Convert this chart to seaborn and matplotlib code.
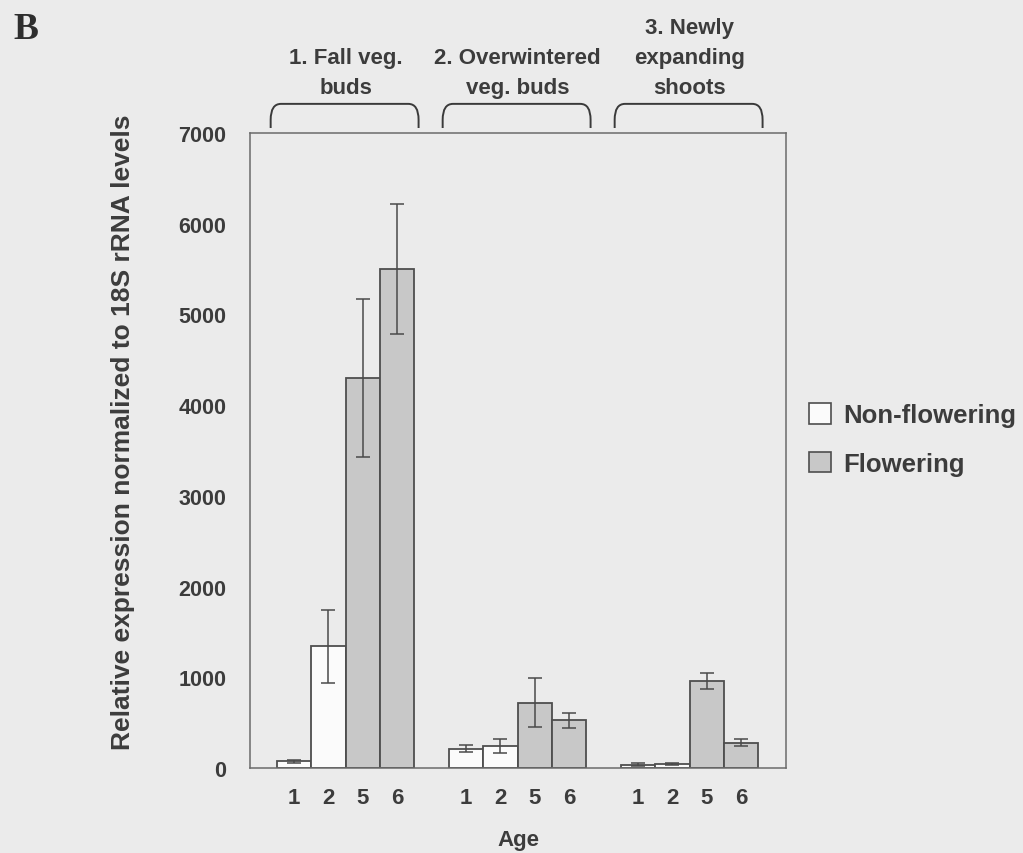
import numpy as np
import pandas as pd
import matplotlib
matplotlib.use("Agg")
import matplotlib.pyplot as plt
import seaborn as sns
from matplotlib.path import Path
from matplotlib.patches import PathPatch, Patch
from matplotlib.transforms import blended_transform_factory

# --- datos ---
groups = ["1. Fall veg.\nbuds", "2. Overwintered\nveg. buds", "3. Newly\nexpanding\nshoots"]
ages = ["1", "2", "5", "6"]
tipo = ["Non-flowering", "Non-flowering", "Flowering", "Flowering"]

fall_vals = [75, 1340, 4300, 5500]
fall_err = [15, 400, 870, 720]
over_vals = [215, 245, 720, 525]
over_err = [35, 80, 270, 80]
shoot_vals = [36, 48, 960, 280]
shoot_err = [15, 10, 90, 35]

all_vals = [fall_vals, over_vals, shoot_vals]
all_errs = [fall_err, over_err, shoot_err]

rows = []
for g, (vals, errs) in enumerate(zip(all_vals, all_errs)):
    for j, age in enumerate(ages):
        rows.append({"pos": g * 5 + j, "age": age, "tipo": tipo[j],
                     "valor": vals[j], "err": errs[j], "grupo": g})
df = pd.DataFrame(rows)

# --- estilo ---
paper = "#ebebeb"
ink = "#3c3c3c"
edge = "#4e4e4e"
colores = {"Non-flowering": "#fbfbfb", "Flowering": "#c8c8c8"}

sns.set_theme(style="white")
plt.rcParams["font.family"] = ["Liberation Sans", "DejaVu Sans"]
plt.rcParams["font.weight"] = "bold"
plt.rcParams["text.color"] = ink

fig = plt.figure(figsize=(10.23, 8.54), dpi=100, facecolor=paper)
ax = fig.add_axes([0.2444, 0.0995, 0.5239, 0.7435])
ax.set_facecolor(paper)

sns.barplot(data=df, x="pos", y="valor", hue="tipo", palette=colores,
            native_scale=True, width=1.0, dodge=False, errorbar=None,
            edgecolor=edge, linewidth=1.3, legend=False, ax=ax)

ax.errorbar(df["pos"], df["valor"], yerr=df["err"], fmt="none",
            ecolor="#4a4a4a", elinewidth=1.1, capsize=5, capthick=1.1)

ax.set_xlim(-1.28, 14.3)
ax.set_ylim(0, 7000)
ax.set_yticks(range(0, 7001, 1000))
ax.set_yticklabels([str(v) for v in range(0, 7001, 1000)], fontsize=15.5,
                   fontweight="bold", color=ink)
ax.set_xticks(df["pos"])
ax.set_xticklabels(df["age"], fontsize=16, fontweight="bold", color=ink)
ax.tick_params(axis="both", length=0)
ax.tick_params(axis="y", pad=17)
ax.tick_params(axis="x", pad=14)
ax.set_xlabel("Age", fontsize=16, fontweight="bold", color=ink, labelpad=15)
ax.set_ylabel("Relative expression normalized to 18S rRNA levels",
              fontsize=19, fontweight="bold", color=ink)
ax.yaxis.set_label_coords(-0.215, 0.531)
for sp in ax.spines.values():
    sp.set_color("#6a6a6a")
    sp.set_linewidth(1.1)

# --- llaves y titulos de grupo ---
trans = blended_transform_factory(ax.transData, ax.transAxes)
for g, nombre in enumerate(groups):
    x0 = g * 5 - 0.68
    x1 = g * 5 + 3.62
    yb, yt, r = 1.008, 1.046, 0.3
    verts = [(x0, yb), (x0, yt - 0.025), (x0, yt), (x0 + r, yt),
             (x1 - r, yt), (x1, yt), (x1, yt - 0.025), (x1, yb)]
    codes = [Path.MOVETO, Path.LINETO, Path.CURVE3, Path.CURVE3,
             Path.LINETO, Path.CURVE3, Path.CURVE3, Path.LINETO]
    ax.add_patch(PathPatch(Path(verts, codes), transform=trans, fill=False,
                           edgecolor="#3a3a3a", linewidth=1.4, clip_on=False))
    ax.text(g * 5 + 1.5, 1.056, nombre, transform=trans, ha="center", va="bottom",
            fontsize=16, fontweight="bold", color=ink, linespacing=1.55,
            clip_on=False)

# --- leyenda ---
handles = [Patch(facecolor=colores[k], edgecolor=edge, linewidth=1.2, label=k)
           for k in ["Non-flowering", "Flowering"]]
leg = fig.legend(handles=handles, loc="upper left", bbox_to_anchor=(0.768, 0.554),
                 frameon=False, prop={"size": 18.5, "weight": "bold"},
                 handlelength=0.85, handleheight=0.85, labelspacing=0.95,
                 handletextpad=0.5)
for t in leg.get_texts():
    t.set_color(ink)

fig.text(0.0127, 0.966, "B", fontsize=27, fontweight="bold", color="#2e2e2e",
         family=["Liberation Serif", "DejaVu Serif"], va="center")

fig.savefig("out.png", dpi=100, facecolor=paper)
